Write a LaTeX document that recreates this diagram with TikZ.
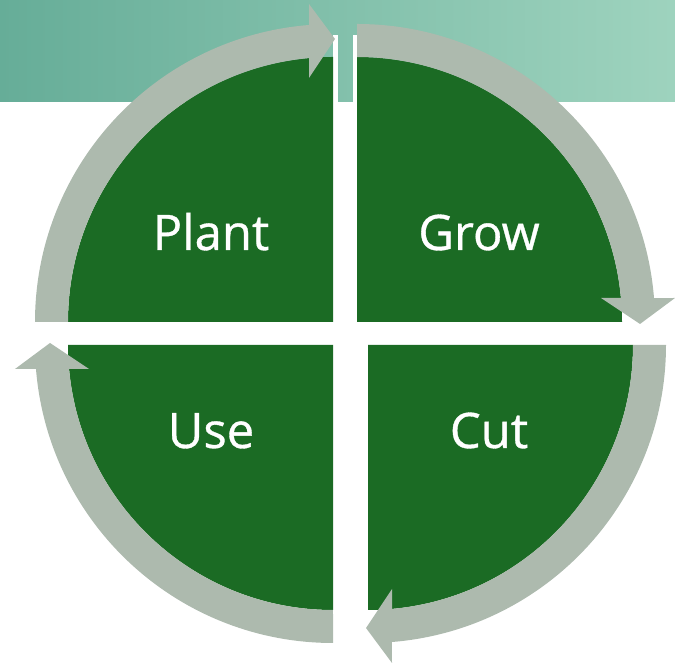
\documentclass[tikz,border=0pt]{standalone}
\usepackage{fontspec}
\newfontfamily\labelfont[FakeBold=0.7]{Open Sans}
\definecolor{leaf}{RGB}{27,107,36}
\definecolor{ring}{RGB}{173,186,174}
\definecolor{bandleft}{RGB}{102,173,152}
\definecolor{bandright}{RGB}{158,211,190}
\begin{document}
\begin{tikzpicture}[x=1pt,y=1pt]
        \useasboundingbox (0,0) rectangle (675,663);

        % top band
        \shade[left color=bandleft,right color=bandright] (0,561) rectangle (675,663);
        \fill[white] (333,561) rectangle (338,628);
        \fill[white] (353,561) rectangle (357,628);

        % quarters with ring arrows
        \foreach \cx/\cy/\rot in {333/341/0, 357/341/-90, 368/318/-180, 333/318/-270} {
          \begin{scope}[shift={(\cx,\cy)},rotate=\rot]
            \fill[leaf] (0,0) -- (-265,0) arc[start angle=180,end angle=90,radius=265] -- cycle;
            \fill[ring] (-298,0) arc[start angle=180,end angle=94.6,radius=298]
              -- (-24,318) -- (2,283) -- (-24,244) -- (-24,263.9)
              arc[start angle=95.2,end angle=180,radius=265] -- cycle;
          \end{scope}
        }

        \begin{scope}[every node/.style={text=white,anchor=base,inner sep=0pt,
            font=\labelfont\fontsize{49}{60}\selectfont}]
          \node (plant) at (211,413) {Plant};
          \node (grow)  at (479,413) {Grow};
          \node (use)   at (211,215) {Use};
          \node (cut)   at (489,215) {Cut};
        \end{scope}

      \end{tikzpicture}
\end{document}
